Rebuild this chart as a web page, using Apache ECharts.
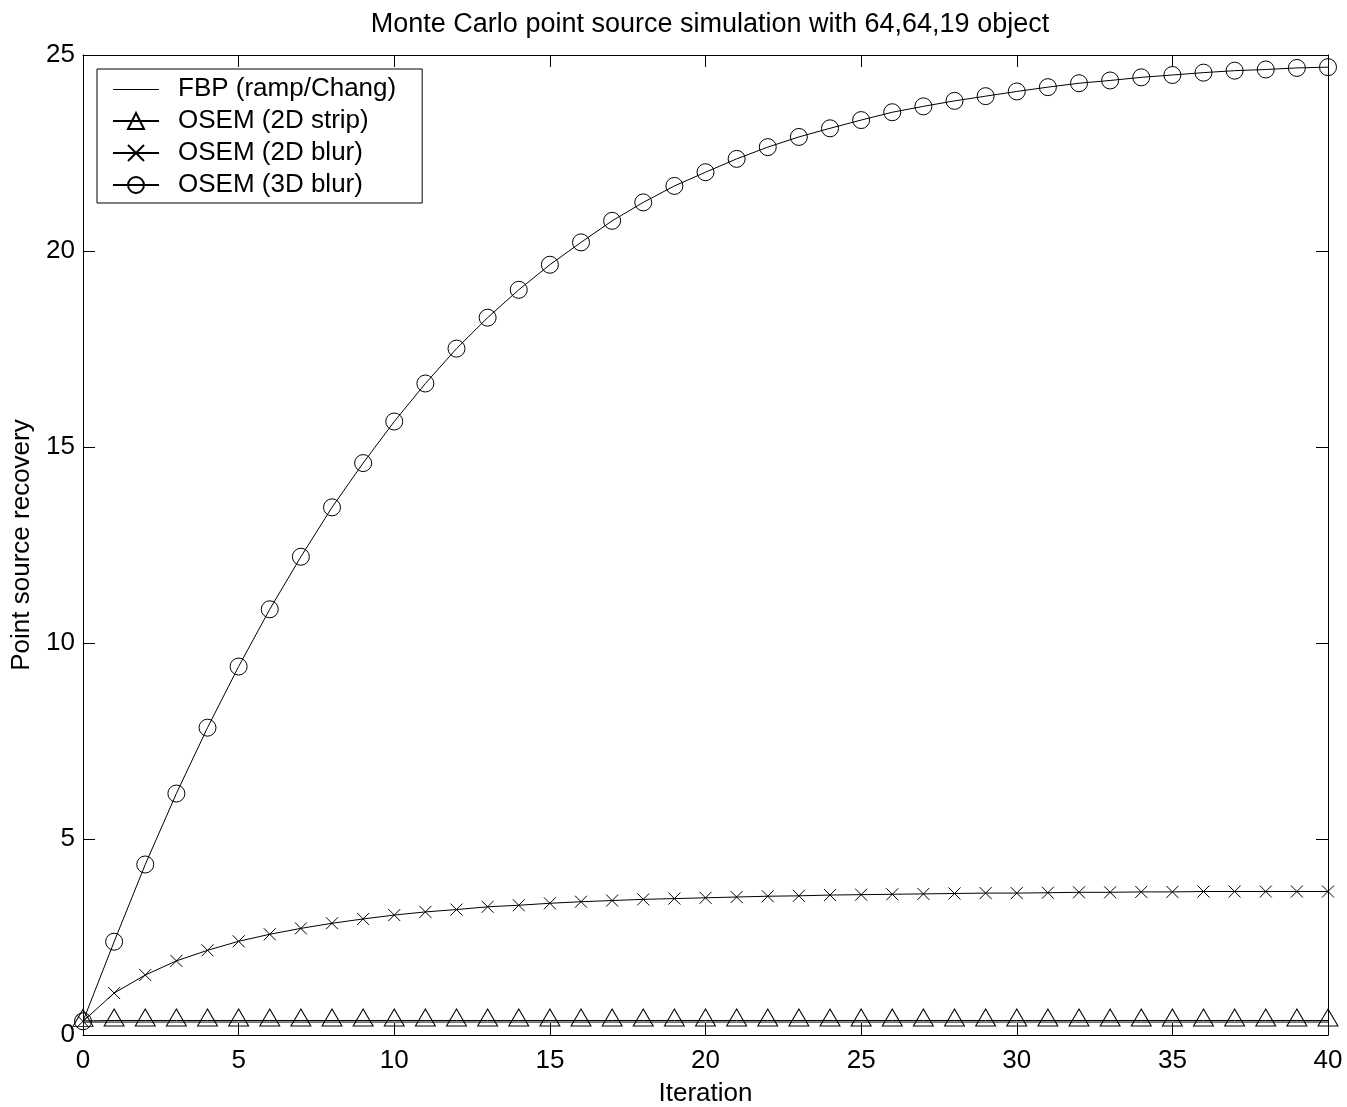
<!DOCTYPE html>
<html>
<head>
<meta charset="utf-8">
<script src="https://cdn.jsdelivr.net/npm/echarts@6/dist/echarts.min.js"></script>
<style>
html,body{margin:0;padding:0;background:#fff;}
#chart{width:1347px;height:1107px;}
</style>
</head>
<body>
<div id="chart"></div>
<script>
const iterations = [0,1,2,3,4,5,6,7,8,9,10,11,12,13,14,15,16,17,18,19,20,21,22,23,24,25,26,27,28,29,30,31,32,33,34,35,36,37,38,39,40];
const fbp = [0.33,0.33,0.33,0.33,0.33,0.33,0.33,0.33,0.33,0.33,0.33,0.33,0.33,0.33,0.33,0.33,0.33,0.33,0.33,0.33,0.33,0.33,0.33,0.33,0.33,0.33,0.33,0.33,0.33,0.33,0.33,0.33,0.33,0.33,0.33,0.33,0.33,0.33,0.33,0.33,0.33];
const osem2dStrip = [0.36,0.37,0.37,0.37,0.37,0.37,0.37,0.37,0.37,0.37,0.37,0.37,0.37,0.37,0.37,0.37,0.37,0.37,0.37,0.37,0.37,0.37,0.37,0.37,0.37,0.37,0.37,0.37,0.37,0.37,0.37,0.37,0.37,0.37,0.37,0.37,0.37,0.37,0.37,0.37,0.37];
const osem2dBlur = [0.35,1.07,1.53,1.89,2.16,2.39,2.57,2.72,2.85,2.96,3.06,3.14,3.20,3.27,3.31,3.36,3.40,3.43,3.46,3.48,3.50,3.52,3.54,3.55,3.57,3.58,3.59,3.60,3.61,3.62,3.62,3.63,3.64,3.64,3.65,3.65,3.66,3.66,3.66,3.66,3.66];
const osem3dBlur = [0.35,2.38,4.35,6.16,7.84,9.40,10.86,12.20,13.46,14.59,15.65,16.62,17.51,18.30,19.01,19.65,20.22,20.77,21.24,21.66,22.01,22.35,22.65,22.91,23.13,23.34,23.54,23.69,23.83,23.95,24.07,24.18,24.28,24.35,24.43,24.49,24.55,24.60,24.63,24.67,24.69];
const seriesNames = ['FBP (ramp/Chang)','OSEM (2D strip)','OSEM (2D blur)','OSEM (3D blur)'];
const titleText = 'Monte Carlo point source simulation with 64,64,19 object';
const xName = 'Iteration';
const yName = 'Point source recovery';

const FONT = '"Liberation Sans", Arial, Helvetica, sans-serif';
function pairs(vals){ return iterations.map((x,i)=>[x, vals[i]]); }
const markerStyle = {color:'rgba(0,0,0,0)', borderColor:'#000', borderWidth:1};
const lineStyle = {color:'#000', width:1};

const chart = echarts.init(document.getElementById('chart'), null, {renderer:'canvas'});
const option = {
  animation:false,
  backgroundColor:'#fff',
  title:{text:titleText, left:705, textAlign:'center', top:6,
    textStyle:{fontFamily:FONT, fontSize:27, fontWeight:'normal', color:'#000'}},
  grid:{left:83, right:19, top:55, bottom:72, containLabel:false, outerBoundsMode:'none'},
  legend:{
    orient:'vertical', left:97, top:69,
    backgroundColor:'#fff', borderColor:'#000', borderWidth:1,
    padding:[7,26,5,15], itemGap:6, itemWidth:46, itemHeight:20,
    textStyle:{fontFamily:FONT, fontSize:26, color:'#000', lineHeight:26, padding:[0,0,0,14]},
    data:[
      {name:seriesNames[0], icon:'path://M0,0L0,0M0,10L46,10L46,11L0,11ZM46,20L46,20', itemStyle:{color:'#000'}},
      seriesNames[1], seriesNames[2], seriesNames[3]
    ]
  },
  xAxis:[{
    type:'value', min:0, max:40, interval:5, position:'bottom',
    name:xName, nameLocation:'middle', nameGap:46,
    nameTextStyle:{fontFamily:FONT, fontSize:26, color:'#000'},
    axisLine:{show:true, onZero:false, lineStyle:{color:'#000', width:1}},
    axisTick:{show:true, inside:true, length:12, lineStyle:{color:'#000'}},
    axisLabel:{fontFamily:FONT, fontSize:26, color:'#000', margin:13},
    splitLine:{show:false}
  },{
    type:'value', min:0, max:40, interval:5, position:'top',
    axisLine:{show:true, onZero:false, lineStyle:{color:'#000', width:1}},
    axisTick:{show:true, inside:true, length:12, lineStyle:{color:'#000'}},
    axisLabel:{show:false}, splitLine:{show:false}
  }],
  yAxis:[{
    type:'value', min:0, max:25, interval:5, position:'left',
    name:yName, nameLocation:'middle', nameGap:48, nameRotate:90,
    nameTextStyle:{fontFamily:FONT, fontSize:26, color:'#000'},
    axisLine:{show:true, onZero:false, lineStyle:{color:'#000', width:1}},
    axisTick:{show:true, inside:true, length:12, lineStyle:{color:'#000'}},
    axisLabel:{fontFamily:FONT, fontSize:26, color:'#000', margin:8},
    splitLine:{show:false}
  },{
    type:'value', min:0, max:25, interval:5, position:'right',
    axisLine:{show:true, onZero:false, lineStyle:{color:'#000', width:1}},
    axisTick:{show:true, inside:true, length:12, lineStyle:{color:'#000'}},
    axisLabel:{show:false}, splitLine:{show:false}
  }],
  series:[
    {name:seriesNames[0], type:'line', data:pairs(fbp), symbol:'none',
      lineStyle:lineStyle, itemStyle:{color:'#000'}, z:2},
    {name:seriesNames[1], type:'line', data:pairs(osem2dStrip), symbol:'triangle',
      symbolSize:[20,17], symbolOffset:[0,-3], showAllSymbol:true,
      lineStyle:lineStyle, itemStyle:markerStyle, z:3},
    {name:seriesNames[2], type:'line', data:pairs(osem2dBlur),
      symbol:'path://M0,0L10,10M10,0L0,10', symbolSize:12, showAllSymbol:true,
      lineStyle:lineStyle, itemStyle:markerStyle, z:3},
    {name:seriesNames[3], type:'line', data:pairs(osem3dBlur), symbol:'circle',
      symbolSize:17, showAllSymbol:true,
      lineStyle:lineStyle, itemStyle:markerStyle, z:3}
  ]
};
chart.setOption(option);
</script>
</body>
</html>
